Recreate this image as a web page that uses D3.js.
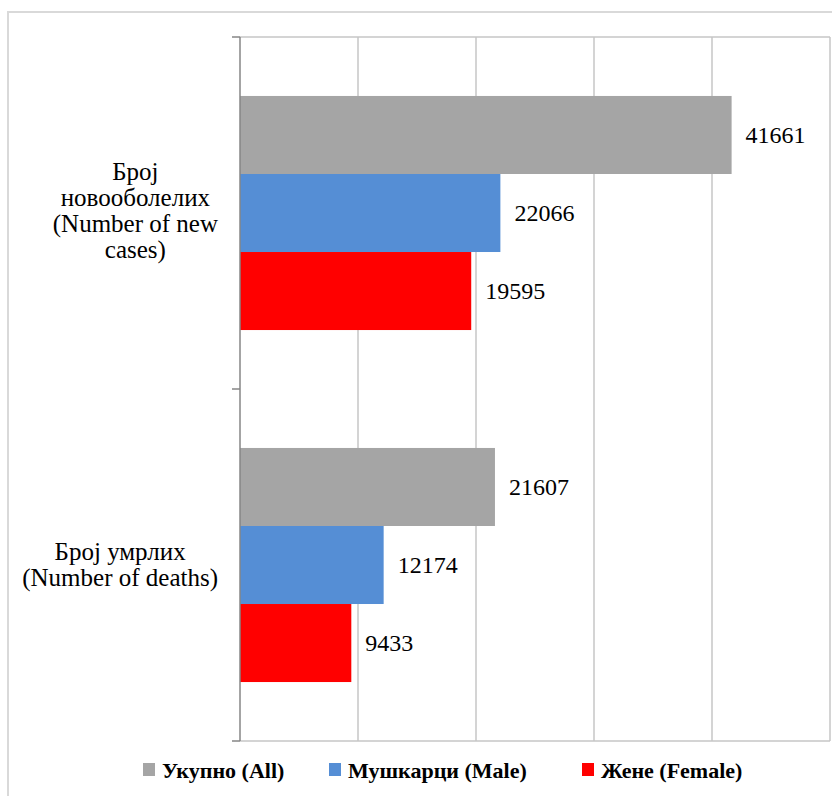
<!DOCTYPE html>
<html>
<head>
<meta charset="utf-8">
<script src="https://cdn.jsdelivr.net/npm/d3@7"></script>
<style>
  svg text, svg tspan { font-family: "Liberation Serif", "Times New Roman", serif !important; }
</style>
</head>
<body style="margin:0">
<div id="chart"></div>
<script>
// ---- Data ----
const categories = ["new", "deaths"];
const categoryLabels = [
  ["Број", "новооболелих", "(Number of new", "cases)"],
  ["Број умрлих", "(Number of deaths)"]
];
const seriesNames = ["Укупно (All)", "Мушкарци (Male)", "Жене (Female)"];
const seriesColors = ["#a5a5a5", "#558ed5", "#ff0000"];
const valuesAll = [41661, 21607];
const valuesMale = [22066, 12174];
const valuesFemale = [19595, 9433];
const xTicks = [0, 10000, 20000, 30000, 40000, 50000];

const seriesValues = [valuesAll, valuesMale, valuesFemale];

// ---- Layout ----
const FONT = '"Liberation Serif", "Times New Roman", serif';
const W = 832, H = 796;
const plot = { left: 240, right: 830, top: 37, bottom: 741 };

const svg = d3.select("#chart").append("svg")
  .attr("width", W).attr("height", H)
  .attr("font-family", FONT)
  .style("font-family", FONT, "important")
  .style("display", "block");

function serif(sel) {
  return sel.attr("font-family", FONT).style("font-family", FONT, "important");
}

// outer chart border
svg.append("rect")
  .attr("x", 8).attr("y", 12)
  .attr("width", 900).attr("height", 900)
  .attr("fill", "#ffffff")
  .attr("stroke", "#d9d9d9").attr("stroke-width", 2);

const x = d3.scaleLinear().domain([0, 50000]).range([plot.left, plot.right]);

const y0 = d3.scaleBand().domain(categories)
  .range([plot.top, plot.bottom])
  .paddingInner(0.335).paddingOuter(0.1675);

const y1 = d3.scaleBand().domain(d3.range(seriesNames.length))
  .range([0, y0.bandwidth()]).padding(0);

// gridlines
svg.append("g").selectAll("line")
  .data(xTicks.slice(1))
  .join("line")
  .attr("x1", d => x(d)).attr("x2", d => x(d))
  .attr("y1", plot.top).attr("y2", plot.bottom)
  .attr("stroke", "#c6c6c6").attr("stroke-width", 1.5);

// top and bottom border of plot
[plot.top, plot.bottom].forEach(yy => {
  svg.append("line")
    .attr("x1", plot.left).attr("x2", plot.right)
    .attr("y1", yy).attr("y2", yy)
    .attr("stroke", "#c6c6c6").attr("stroke-width", 1.5);
});

// bars
const rows = [];
categories.forEach((c, ci) => {
  seriesValues.forEach((vals, si) => {
    rows.push({ cat: c, si: si, value: vals[ci] });
  });
});

svg.append("g").selectAll("rect")
  .data(rows)
  .join("rect")
  .attr("x", x(0))
  .attr("y", d => y0(d.cat) + y1(d.si))
  .attr("width", d => x(d.value) - x(0))
  .attr("height", y1.bandwidth())
  .attr("fill", d => seriesColors[d.si]);

// value labels
serif(svg.selectAll("text.val")
  .data(rows)
  .join("text")
  .attr("class", "val")
  .attr("x", d => x(d.value) + 14)
  .attr("y", d => y0(d.cat) + y1(d.si) + y1.bandwidth() / 2 + 8))
  .style("font-size", "24px")
  .attr("fill", "#000")
  .text(d => d.value);

// vertical axis line with ticks
const boundaries = [plot.top, (y0(categories[0]) + y0.bandwidth() + y0(categories[1])) / 2, plot.bottom];
svg.append("line")
  .attr("x1", plot.left).attr("x2", plot.left)
  .attr("y1", plot.top).attr("y2", plot.bottom)
  .attr("stroke", "#868686").attr("stroke-width", 1.5);
svg.append("g").selectAll("line")
  .data(boundaries)
  .join("line")
  .attr("x1", plot.left - 8).attr("x2", plot.left)
  .attr("y1", d => d).attr("y2", d => d)
  .attr("stroke", "#868686").attr("stroke-width", 1.5);

// category labels (block right edge at 218, lines centered within block)
const lineH = 26;
const labelRight = 218;
categories.forEach((c, ci) => {
  const lines = categoryLabels[ci];
  const cy = y0(c) + y0.bandwidth() / 2 + (ci === 0 ? -2 : 0);
  const texts = lines.map((ln, li) => serif(svg.append("text"))
      .attr("text-anchor", "middle")
      .style("font-size", "25px")
      .attr("fill", "#000")
      .attr("x", 0)
      .attr("y", cy + (li - (lines.length - 1) / 2) * lineH + 8)
      .text(ln));
  const maxW = d3.max(texts, s => s.node().getComputedTextLength());
  texts.forEach(s => s.attr("x", labelRight - maxW / 2));
});

// legend
const legendX = [143, 329, 582];
const lg = svg.append("g").selectAll("g")
  .data(seriesNames)
  .join("g")
  .attr("transform", (d, i) => `translate(${legendX[i]},763)`);
lg.append("rect")
  .attr("width", 12).attr("height", 13)
  .attr("fill", (d, i) => seriesColors[i]);
serif(lg.append("text"))
  .attr("x", 19).attr("y", 15)
  .style("font-weight", "bold")
  .style("font-size", "22px")
  .attr("fill", "#000")
  .text(d => d);
</script>
</body>
</html>
